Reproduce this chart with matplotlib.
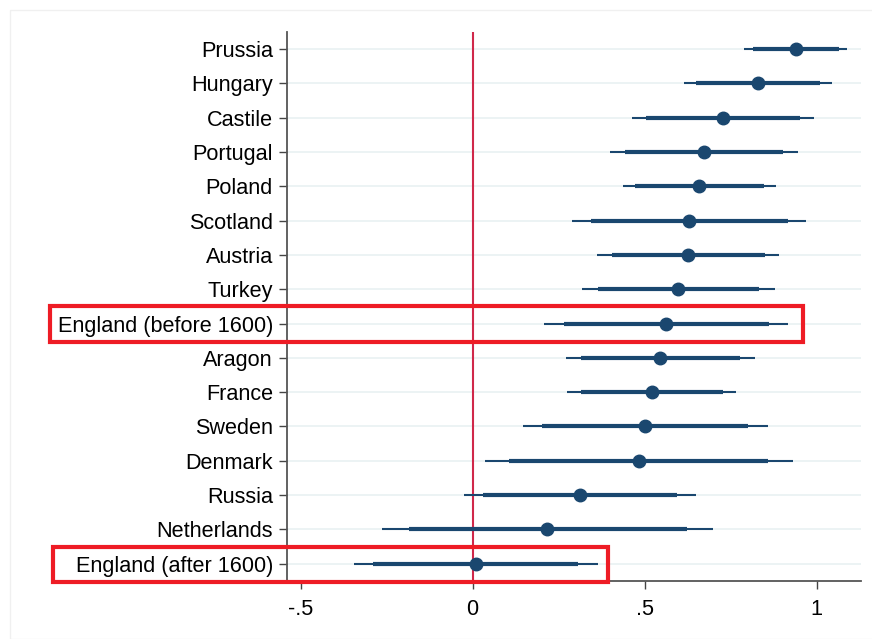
import numpy as np
import matplotlib.pyplot as plt
from matplotlib.patches import Rectangle

countries = ['Prussia', 'Hungary', 'Castile', 'Portugal', 'Poland', 'Scotland',
             'Austria', 'Turkey', 'England (before 1600)', 'Aragon', 'France',
             'Sweden', 'Denmark', 'Russia', 'Netherlands', 'England (after 1600)']
coef   = [0.939, 0.829, 0.727, 0.672, 0.659, 0.629, 0.626, 0.597,
          0.563, 0.545, 0.520, 0.502, 0.483, 0.311, 0.216, 0.009]
lo95   = [0.789, 0.615, 0.462, 0.398, 0.437, 0.290, 0.361, 0.319,
          0.208, 0.271, 0.275, 0.145, 0.036, -0.025, -0.264, -0.345]
hi95   = [1.088, 1.044, 0.992, 0.947, 0.883, 0.970, 0.892, 0.878,
          0.918, 0.821, 0.766, 0.859, 0.931, 0.648, 0.700, 0.364]
lo90   = [0.814, 0.649, 0.505, 0.443, 0.472, 0.344, 0.404, 0.363,
          0.265, 0.315, 0.315, 0.202, 0.107, 0.029, -0.186, -0.289]
hi90   = [1.064, 1.010, 0.951, 0.902, 0.846, 0.916, 0.849, 0.833,
          0.861, 0.776, 0.728, 0.801, 0.858, 0.594, 0.622, 0.307]
xticks = [-0.5, 0, 0.5, 1]
xticklabels = ['-.5', '0', '.5', '1']
boxed = ['England (before 1600)', 'England (after 1600)']
box_right = [0.96, 0.393]

navy = '#1a476f'
plt.rcParams['font.family'] = ['Liberation Sans', 'DejaVu Sans']

fig = plt.figure(figsize=(8.72, 6.39), dpi=100)
ax = fig.add_axes([0.329, 0.091, 0.658, 0.859])

n = len(countries)
y = np.arange(n, 0, -1)

for yy in y:
    ax.axhline(yy, color='#eaf2f3', lw=1.3, zorder=0)
ax.axvline(0, color='#d0284a', lw=1.5, zorder=1)

ax.hlines(y, lo95, hi95, color=navy, lw=1.5, zorder=2)
ax.hlines(y, lo90, hi90, color=navy, lw=3.0, zorder=3)
ax.plot(coef, y, 'o', color=navy, ms=9, zorder=4)

ax.set_xlim(-0.54, 1.128)
ax.set_ylim(0.5, n + 0.5)
ax.set_yticks(y)
ax.set_yticklabels(countries, fontsize=15.6)
ax.set_xticks(xticks)
ax.set_xticklabels(xticklabels, fontsize=15.6)
ax.tick_params(axis='y', length=6, width=1, color='#444444', pad=4)
ax.tick_params(axis='x', length=6, width=1, color='#444444', pad=7)
for s in ['top', 'right']:
    ax.spines[s].set_visible(False)
for s in ['left', 'bottom']:
    ax.spines[s].set_color('#555555')
    ax.spines[s].set_linewidth(1.3)

# red highlight boxes around the two England rows
for name, xr in zip(boxed, box_right):
    yy = y[countries.index(name)]
    left = -1.229 if name == boxed[0] else -1.22
    ax.add_patch(Rectangle((left, yy - 0.53), xr - left, 1.03, fill=False,
                           edgecolor='#ee1c25', lw=3, clip_on=False, zorder=5))

# faint outer frame of the graph region
fig.add_artist(Rectangle((10 / 872, 0.0), 1.0, 1 - 10 / 639, fill=False,
                         edgecolor='#f0f0f0', lw=1, transform=fig.transFigure))

plt.savefig('out.png', dpi=100)
